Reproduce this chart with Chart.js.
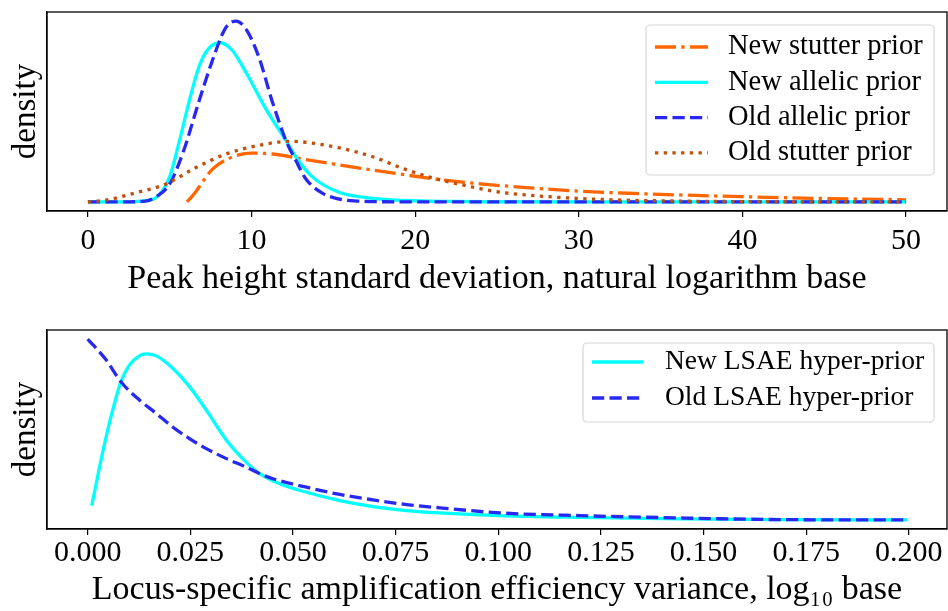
<!DOCTYPE html>
<html>
<head>
<meta charset="utf-8">
<script src="https://cdn.jsdelivr.net/npm/chart.js@4.4.0/dist/chart.umd.min.js"></script>
<style>
html, body { margin: 0; padding: 0; background: #fff; }
#wrap { width: 948px; height: 611px; position: relative; }
canvas { position: absolute; left: 0; }
</style>
</head>
<body>
<div id="wrap">
  <canvas id="sdChart" width="948" height="305" style="top:0"></canvas>
  <canvas id="lsaeChart" width="948" height="306" style="top:305px"></canvas>
</div>
<script>
// top panel: peak height standard deviation priors
const sdTicks = [0, 10, 20, 30, 40, 50];

const newStutterX = [6.05, 6.5, 7, 7.6, 8.6, 10, 11.3, 13.3, 16.4, 19.4, 21.4, 24, 27, 30, 33, 36, 40, 45, 50];
const newStutterY = [0, 0.045, 0.11, 0.18, 0.24, 0.27, 0.265, 0.235, 0.19, 0.15, 0.125, 0.1, 0.078, 0.06, 0.048, 0.039, 0.029, 0.019, 0.012];

const newAllelicX = [0, 1.9, 3.3, 4.1, 5, 5.6, 6.2, 6.8, 7.4, 8.1, 8.8, 9.7, 10.9, 12.1, 12.7, 13.7, 15.3, 17.4, 19.4, 22, 25, 30, 40, 50];
const newAllelicY = [0, 0, 0.005, 0.02, 0.14, 0.34, 0.56, 0.75, 0.85, 0.88, 0.84, 0.71, 0.51, 0.34, 0.25, 0.14, 0.055, 0.02, 0.008, 0.003, 0.001, 0, 0, 0];

const oldAllelicX = [0, 2, 3.5, 4.2, 5, 5.8, 6.8, 7.6, 8.4, 9.05, 9.7, 10.45, 11.25, 12.1, 12.7, 13.3, 14.3, 15.3, 16.5, 18, 20, 30, 40, 50];
const oldAllelicY = [0, 0, 0.005, 0.03, 0.1, 0.27, 0.56, 0.78, 0.96, 1.0, 0.95, 0.8, 0.56, 0.34, 0.23, 0.13, 0.05, 0.017, 0.005, 0.001, 0, 0, 0, 0];

const oldStutterX = [0, 1.1, 2.9, 4.8, 6.6, 8.6, 10.3, 12.3, 13.3, 15.3, 17.4, 19.4, 21.4, 23.9, 25.1, 28, 32, 36, 40, 50];
const oldStutterY = [0, 0.01, 0.05, 0.1, 0.19, 0.27, 0.31, 0.335, 0.33, 0.3, 0.25, 0.18, 0.125, 0.075, 0.055, 0.03, 0.012, 0.005, 0.002, 0];

// bottom panel: LSAE variance hyper-priors
const lsaeTicks = [0, 0.025, 0.05, 0.075, 0.1, 0.125, 0.15, 0.175, 0.2];

const newLsaeX = [0.001, 0.0029, 0.0045, 0.0061, 0.0081, 0.0102, 0.0126, 0.0141, 0.0167, 0.0207, 0.0248, 0.0289, 0.0338, 0.0386, 0.0419, 0.0468, 0.0533, 0.0614, 0.0695, 0.0777, 0.0858, 0.1004, 0.12, 0.1443, 0.1687, 0.1996];
const newLsaeY = [0.079, 0.292, 0.459, 0.607, 0.764, 0.857, 0.907, 0.918, 0.907, 0.839, 0.737, 0.607, 0.441, 0.32, 0.256, 0.2, 0.153, 0.107, 0.074, 0.052, 0.039, 0.024, 0.014, 0.006, 0.002, 0];

const oldLsaeX = [0, 0.0045, 0.0081, 0.0126, 0.0167, 0.0207, 0.0248, 0.0289, 0.0338, 0.0386, 0.0419, 0.0451, 0.0533, 0.0614, 0.0695, 0.0777, 0.0858, 0.1004, 0.12, 0.1443, 0.1687, 0.1996];
const oldLsaeY = [1.0, 0.885, 0.764, 0.663, 0.589, 0.514, 0.45, 0.394, 0.339, 0.292, 0.256, 0.228, 0.181, 0.141, 0.111, 0.085, 0.067, 0.039, 0.024, 0.011, 0.002, 0];

const FONT = "'Liberation Serif', 'DejaVu Serif', serif";
const LW = 3.3;
const DASHED = [12.2, 5.3];
const DASHDOT = [21, 5.3, 3.3, 5.3];
const DOTTED = [3.3, 5.4];

function pts(xs, ys) {
    return xs.map((x, i) => ({ x: x, y: ys[i] }));
}

function series(label, xs, ys, color, dash, order) {
    return {
        label: label,
        data: pts(xs, ys),
        borderColor: color,
        borderWidth: LW,
        borderDash: dash,
        borderCapStyle: 'butt',
        pointRadius: 0,
        fill: false,
        cubicInterpolationMode: 'monotone',
        order: order
    };
}

const frame = {
    id: 'frame',
    afterDatasetsDraw(chart) {
        const { ctx, chartArea: a } = chart;
        ctx.save();
        ctx.strokeStyle = '#000';
        ctx.lineWidth = 1.3;
        ctx.strokeRect(a.left, a.top, a.right - a.left, a.bottom - a.top);
        ctx.restore();
    }
};

const legendBox = {
    id: 'legendBox',
    afterDraw(chart, args, o) {
        const ctx = chart.ctx;
        ctx.save();
        ctx.beginPath();
        ctx.roundRect(o.x, o.y, o.w, o.h, 4);
        ctx.fillStyle = 'rgba(255,255,255,0.8)';
        ctx.fill();
        ctx.strokeStyle = '#d6d6d6';
        ctx.lineWidth = 1.2;
        ctx.stroke();
        ctx.font = o.fontSize + 'px ' + FONT;
        ctx.textBaseline = 'middle';
        ctx.fillStyle = '#000';
        chart.data.datasets.forEach((ds, i) => {
            const cy = o.y + o.first + i * o.row;
            ctx.beginPath();
            ctx.setLineDash(ds.borderDash || []);
            ctx.lineCap = 'butt';
            ctx.strokeStyle = ds.borderColor;
            ctx.lineWidth = ds.borderWidth;
            ctx.moveTo(o.x + 9, cy);
            ctx.lineTo(o.x + 9 + o.sample, cy);
            ctx.stroke();
            ctx.setLineDash([]);
            ctx.fillText(ds.label, o.x + o.textX, cy);
        });
        ctx.restore();
    }
};

function makeOptions(xMin, xMax, ticks, fmt, axisH, tickPad, titlePad, legend, topPad) {
    return {
        responsive: false,
        animation: false,
        layout: { padding: { top: topPad, right: 1, bottom: 0, left: 0 } },
        plugins: {
            legend: { display: false },
            tooltip: { enabled: false },
            legendBox: legend
        },
        scales: {
            x: {
                type: 'linear',
                min: xMin,
                max: xMax,
                afterBuildTicks: s => { s.ticks = ticks.map(v => ({ value: v })); },
                afterFit: s => { s.height = axisH; },
                grid: { drawOnChartArea: false, drawTicks: true, tickLength: 6, color: '#000', lineWidth: 1.2 },
                border: { display: true, color: '#000', width: 1.3 },
                ticks: {
                    color: '#000',
                    padding: tickPad,
                    maxRotation: 0,
                    autoSkip: false,
                    font: { family: FONT, size: 30 },
                    callback: fmt
                },
                title: {
                    display: true,
                    color: '#000',
                    font: { family: FONT, size: 34 },
                    padding: { top: 0, bottom: titlePad }
                }
            },
            y: {
                min: -0.05,
                max: 1.05,
                afterFit: s => { s.width = 47; },
                grid: { display: false },
                border: { display: true, color: '#000', width: 1.3 },
                ticks: { display: false },
                title: {
                    display: true,
                    text: 'density',
                    color: '#000',
                    font: { family: FONT, size: 33 },
                    padding: { top: 7, bottom: 0 }
                }
            }
        }
    };
}

document.addEventListener('DOMContentLoaded', () => {
    const topOpts = makeOptions(-2.5, 52.5, sdTicks, v => String(v), 94, 6, 6,
        { x: 646, y: 25, w: 288, h: 150, first: 22, row: 35.3, sample: 53, textX: 82, fontSize: 28.5 }, 12);
    topOpts.scales.x.title.text = 'Peak height standard deviation, natural logarithm base';

    new Chart(document.getElementById('sdChart'), {
        type: 'line',
        data: {
            datasets: [
                series('New stutter prior', newStutterX, newStutterY, '#ff6600', DASHDOT, 4),
                series('New allelic prior', newAllelicX, newAllelicY, '#00ffff', [], 3),
                series('Old allelic prior', oldAllelicX, oldAllelicY, '#2828f0', DASHED, 2),
                series('Old stutter prior', oldStutterX, oldStutterY, '#c0500c', DOTTED, 1)
            ]
        },
        options: topOpts,
        plugins: [frame, legendBox]
    });

    const botOpts = makeOptions(-0.0099, 0.2093, lsaeTicks, v => v.toFixed(3), 82, 0, 1,
        { x: 583, y: 38, w: 351, h: 79, first: 19, row: 36, sample: 51, textX: 82, fontSize: 27.5 }, 25);
    botOpts.scales.x.title.text = 'Locus-specific amplification efficiency variance, log\u2081\u2080 base';

    new Chart(document.getElementById('lsaeChart'), {
        type: 'line',
        data: {
            datasets: [
                series('New LSAE hyper-prior', newLsaeX, newLsaeY, '#00ffff', [], 2),
                series('Old LSAE hyper-prior', oldLsaeX, oldLsaeY, '#2828f0', DASHED, 1)
            ]
        },
        options: botOpts,
        plugins: [frame, legendBox]
    });
});
</script>
</body>
</html>
